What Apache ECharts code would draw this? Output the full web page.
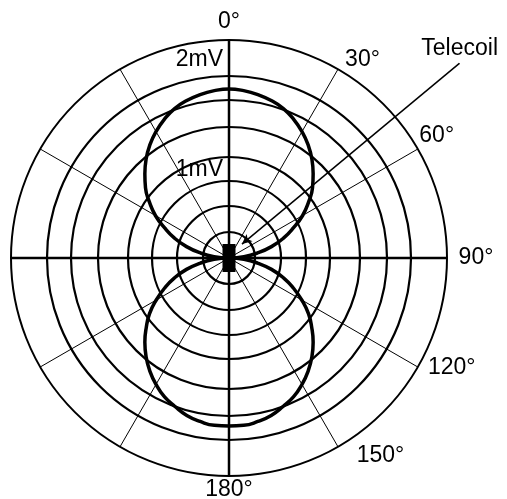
<!DOCTYPE html>
<html>
<head>
<meta charset="utf-8">
<script src="https://cdn.jsdelivr.net/npm/echarts@6/dist/echarts.min.js"></script>
<style>
  html, body { margin: 0; padding: 0; background: #fff; }
  #chart { width: 507px; height: 499px; }
</style>
</head>
<body>
<div id="chart"></div>
<script>
// grid levels (same units as the pattern radius), outer ring = maxLevel
var maxLevel = 218;
var ringLevels = [26, 52, 77, 101, 131, 158, 182];

// figure-eight pickup pattern, every 5 degrees
var upperAngles = [270, 275, 280, 285, 290, 295, 300, 305, 310, 315, 320, 325, 330, 335, 340, 345, 350, 355,
  0, 5, 10, 15, 20, 25, 30, 35, 40, 45, 50, 55, 60, 65, 70, 75, 80, 85, 90];
var upperLobe = [0, 15, 29, 44, 58, 71, 85, 97, 109, 119, 129, 138, 146, 153, 159, 163, 166, 168,
  169, 168, 166, 163, 159, 153, 146, 138, 129, 119, 109, 97, 85, 71, 58, 44, 29, 15, 0];
var lowerAngles = [90, 95, 100, 105, 110, 115, 120, 125, 130, 135, 140, 145, 150, 155, 160, 165, 170, 175,
  180, 185, 190, 195, 200, 205, 210, 215, 220, 225, 230, 235, 240, 245, 250, 255, 260, 265, 270];
var lowerLobe = [0, 15, 29, 44, 58, 71, 84, 97, 108, 119, 129, 138, 146, 153, 158, 163, 166, 168,
  168, 168, 166, 163, 158, 153, 146, 138, 129, 119, 108, 97, 84, 71, 58, 44, 29, 15, 0];

// level labels
var levelNames = ['2mV', '1mV'];
var levelPos = [198, 88];

// angle tick labels (right half only)
var angleTicks = [0, 30, 60, 90, 120, 150, 180];

// telecoil pointer
var pointerName = 'Telecoil';
var pointerRadius = [19, 302];
var pointerAngle = [43, 49.8];

// ---- layout / style ----
var font = "'Liberation Sans', Arial, sans-serif";
var fs = 23;
var center = [229, 258];
var outerR = 218;
var frameMax = 302;          // extra polar reaching outside the grid
var tickLabelR = 241;
var tickNudge = [[0, 5], [13, 10], [-1, -2], [6, 0], [14, -11], [31, -11], [0, -9]];

var myChart = echarts.init(document.getElementById('chart'));

function zip(r, a) {
  return r.map(function (v, i) { return [v, a[i]]; });
}

function hiddenAngle(idx) {
  return {
    polarIndex: idx, type: 'value', min: 0, max: 360, startAngle: 90,
    axisLine: { show: false }, axisTick: { show: false },
    axisLabel: { show: false }, splitLine: { show: false }
  };
}

var polar = [
  { center: center, radius: outerR },
  { center: center, radius: outerR },
  { center: center, radius: outerR * frameMax / maxLevel }
];
var angleAxis = [
  {
    polarIndex: 0, type: 'value', min: 0, max: 360, interval: 30,
    startAngle: 90, clockwise: true,
    axisLine: { lineStyle: { color: '#000', width: 2 } },
    axisTick: { show: false },
    axisLabel: { show: false },
    splitLine: { lineStyle: { color: '#000', width: 1 } }
  },
  {
    polarIndex: 1, type: 'value', min: 0, max: 360, interval: 90,
    startAngle: 90, clockwise: true,
    axisLine: { show: false },
    axisTick: { show: false },
    axisLabel: { show: false },
    splitLine: { lineStyle: { color: '#000', width: 2.5 } }
  },
  hiddenAngle(2)
];
var radiusAxis = [
  { polarIndex: 0, type: 'value', min: 0, max: maxLevel, show: false },
  { polarIndex: 1, type: 'value', min: 0, max: maxLevel, show: false },
  { polarIndex: 2, type: 'value', min: 0, max: frameMax, show: false }
];

ringLevels.forEach(function (lv, i) {
  polar.push({ center: center, radius: lv / maxLevel * outerR });
  angleAxis.push({
    polarIndex: i + 3, type: 'value', min: 0, max: 360, startAngle: 90,
    axisLine: { lineStyle: { color: '#000', width: 2.2 } },
    axisTick: { show: false },
    axisLabel: { show: false },
    splitLine: { show: false }
  });
  radiusAxis.push({ polarIndex: i + 3, type: 'value', min: 0, max: lv, show: false });
});

var textStyle = { color: '#000', fontSize: fs, fontFamily: font };

var option = {
  backgroundColor: '#fff',
  animation: false,
  polar: polar,
  angleAxis: angleAxis,
  radiusAxis: radiusAxis,
  series: [
    {
      type: 'line', coordinateSystem: 'polar', polarIndex: 0,
      data: zip(upperLobe, upperAngles),
      smooth: true, symbol: 'none', clip: false,
      lineStyle: { color: '#000', width: 3.5 }, z: 5
    },
    {
      type: 'line', coordinateSystem: 'polar', polarIndex: 0,
      data: zip(lowerLobe, lowerAngles),
      smooth: true, symbol: 'none', clip: false,
      lineStyle: { color: '#000', width: 3.5 }, z: 5
    },
    {
      type: 'line', coordinateSystem: 'polar', polarIndex: 2,
      clip: false, z: 6, showSymbol: true,
      lineStyle: { color: '#000', width: 1.5 },
      itemStyle: { color: '#000', opacity: 1 },
      data: [
        { value: [pointerRadius[0], pointerAngle[0]], symbol: 'arrow', symbolSize: [7, 10], symbolRotate: 130 },
        {
          value: [pointerRadius[1], pointerAngle[1]], symbol: 'circle', symbolSize: 0.1,
          label: Object.assign({ show: true, position: 'top', distance: 3, formatter: pointerName }, textStyle)
        }
      ]
    },
    {
      type: 'scatter', coordinateSystem: 'polar', polarIndex: 0,
      symbol: 'rect', symbolSize: [13, 28], z: 7,
      itemStyle: { color: '#000', opacity: 1 },
      data: [[0, 0]]
    },
    {
      type: 'scatter', coordinateSystem: 'polar', polarIndex: 0,
      symbolSize: 0, z: 8,
      itemStyle: { opacity: 1 },
      label: Object.assign({ show: true, position: 'left', distance: 6, formatter: '{b}' }, textStyle),
      data: levelNames.map(function (n, i) { return { name: n, value: [levelPos[i], 0] }; })
    },
    {
      type: 'scatter', coordinateSystem: 'polar', polarIndex: 2,
      symbolSize: 0, z: 8,
      itemStyle: { opacity: 1 },
      data: angleTicks.map(function (a, i) {
        return {
          name: a + '°',
          value: [tickLabelR, a],
          label: Object.assign({
            show: true, position: 'inside', formatter: '{b}',
            offset: tickNudge[i]
          }, textStyle)
        };
      })
    }
  ]
};

myChart.setOption(option);
</script>
</body>
</html>
